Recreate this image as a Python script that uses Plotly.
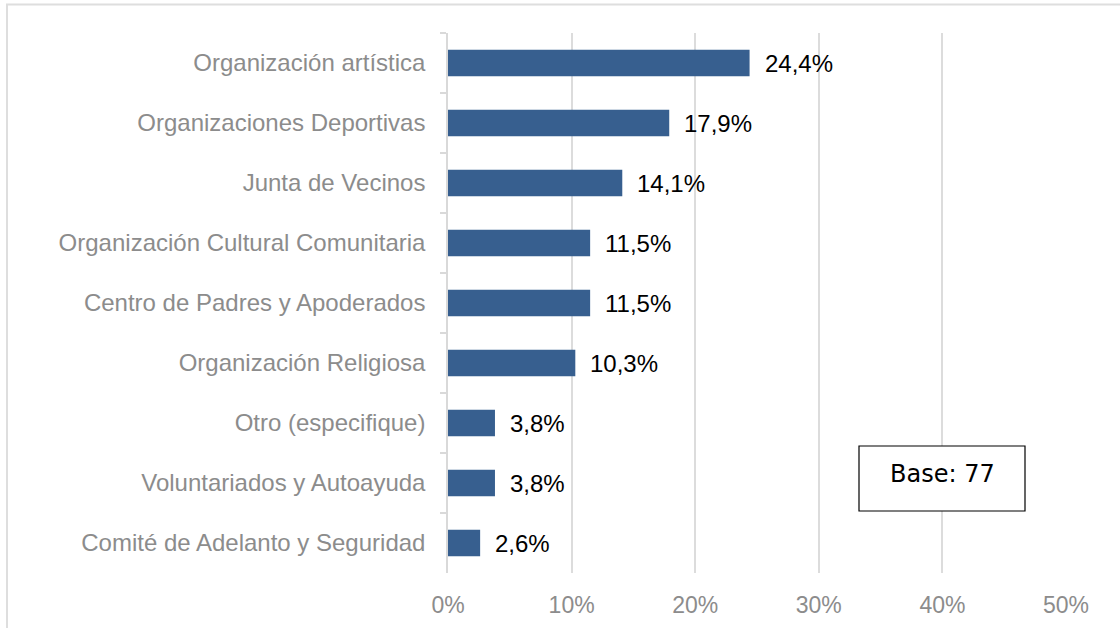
import plotly.graph_objects as go

categories = [
    "Organización artística",
    "Organizaciones Deportivas",
    "Junta de Vecinos",
    "Organización Cultural Comunitaria",
    "Centro de Padres y Apoderados",
    "Organización Religiosa",
    "Otro (especifique)",
    "Voluntariados y Autoayuda",
    "Comité de Adelanto y Seguridad",
]
values = [24.4, 17.9, 14.1, 11.5, 11.5, 10.3, 3.8, 3.8, 2.6]
x_ticks = [0, 10, 20, 30, 40, 50]
x_tick_labels = ["0%", "10%", "20%", "30%", "40%", "50%"]
base_text = "Base: 77"

labels = [f"{v:.1f}%".replace(".", ",") for v in values]

W, H = 1120, 628
L, T = 448, 33
R = W - 1066
B = H - 573
PW, PH = 618, 540


def px(x):
    return (x - L) / PW


def py(y):
    return (T + PH - y) / PH


fig = go.Figure()
fig.add_trace(go.Bar(
    x=values, y=categories, orientation="h",
    marker=dict(color="#375f8f", line=dict(width=0)),
    hoverinfo="skip",
))

for c, v, t in zip(categories, values, labels):
    fig.add_annotation(x=v, y=c, text=t, showarrow=False, xanchor="left",
                       xshift=13, font=dict(family="Liberation Sans, Arial", size=24, color="#000000"))

# Base box
fig.add_shape(type="rect", xref="paper", yref="paper",
              x0=px(859), x1=px(1025), y0=py(511), y1=py(446),
              line=dict(color="#000000", width=1.2), fillcolor="white")
fig.add_annotation(xref="paper", yref="paper", x=px(942), y=py(474),
                   text=base_text, showarrow=False, xanchor="center", yanchor="middle",
                   font=dict(family="DejaVu Sans, Verdana", size=24, color="#000000"))

# Outer chart border
fig.add_shape(type="rect", xref="paper", yref="paper",
              x0=px(7), x1=px(1140), y0=py(660), y1=py(4.5),
              line=dict(color="#dedede", width=2), fillcolor="rgba(0,0,0,0)", layer="below")

fig.update_layout(
    width=W, height=H,
    margin=dict(l=L, r=R, t=T, b=B, autoexpand=False),
    paper_bgcolor="white", plot_bgcolor="white",
    bargap=0.56,
    showlegend=False,
    font=dict(family="Liberation Sans, Arial", size=24, color="#8c8c8c"),
    xaxis=dict(
        range=[0, 50], tickvals=x_ticks, ticktext=x_tick_labels,
        showgrid=True, gridcolor="#dcdcdc", gridwidth=2,
        zeroline=False, showline=False, ticks="",
        ticklabelstandoff=16, automargin=False,
        tickfont=dict(size=23, color="#8c8c8c"),
        fixedrange=True,
    ),
    yaxis=dict(
        autorange="reversed",
        showline=True, linecolor="#d9d9d9", linewidth=1.5,
        ticks="outside", tickson="boundaries", ticklen=6, tickcolor="#d9d9d9", tickwidth=1.5,
        ticklabelstandoff=16, automargin=False,
        tickfont=dict(size=24, color="#8c8c8c"),
        showgrid=False,
        fixedrange=True,
    ),
)

fig.write_html(
    "out.html",
    config={"displayModeBar": False},
    post_script="document.body.style.margin='0';document.body.style.overflow='hidden';",
)
